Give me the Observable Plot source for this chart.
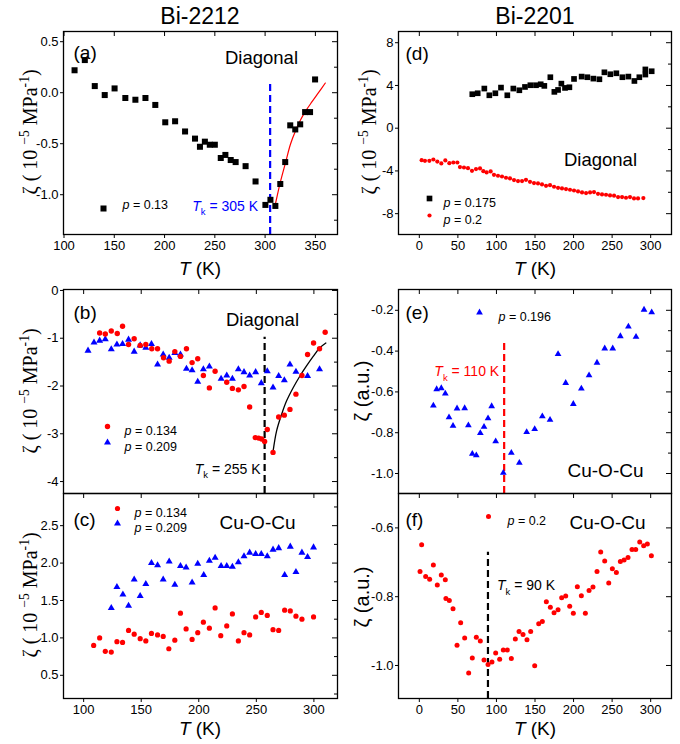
<!DOCTYPE html>
<html><head><meta charset="utf-8">
<script src="https://cdn.jsdelivr.net/npm/d3@7"></script>
<script src="https://cdn.jsdelivr.net/npm/@observablehq/plot@0.6"></script>
<style>
body{margin:0;background:#fff;}
#fig{position:relative;width:680px;height:744px;background:#fff;overflow:hidden;}
</style></head><body><div id="fig"></div>
<script>
// ---------- text ----------
const titles = ["Bi-2212", "Bi-2201"];
const panelTags = ["(a)", "(b)", "(c)", "(d)", "(e)", "(f)"];
const mechLabels = ["Diagonal", "Cu-O-Cu"];
const xAxisLabel = "T (K)";
const legA = ["p = 0.13"];
const legB = ["p = 0.134", "p = 0.209"];
const legD = ["p = 0.175", "p = 0.2"];
const legE = ["p = 0.196"];
const legF = ["p = 0.2"];
const tkLabels = ["Tk = 305 K", "Tk = 255 K", "Tk = 110 K", "Tk = 90 K"];

// ---------- ticks ----------
const xTicksA = [100, 150, 200, 250, 300, 350];
const xTicksBC = [100, 150, 200, 250, 300];
const xTicksR = [0, 50, 100, 150, 200, 250, 300];
const yTicksA = [-1.0, -0.5, 0.0, 0.5], yMinorA = [-1.25, -0.75, -0.25, 0.25];
const yTicksB = [0, -1, -2, -3, -4], yMinorB = [-0.5, -1.5, -2.5, -3.5];
const yTicksC = [0.5, 1.0, 1.5, 2.0, 2.5], yMinorC = [0.25, 0.75, 1.25, 1.75, 2.25, 2.75];
const yTicksD = [-8, -4, 0, 4, 8], yMinorD = [-6, -2, 2, 6];
const yTicksE = [-1.0, -0.8, -0.6, -0.4, -0.2], yMinorE = [-0.9, -0.7, -0.5, -0.3];
const yTicksF = [-1.0, -0.8, -0.6], yMinorF = [-0.9, -0.7];

// ---------- domains ----------
const xDomA = [99.5, 372], yDomA = [-1.39, 0.6];
const xDomBC = [82.5, 320.5], yDomB = [-4.25, 0.02], yDomC = [0.19, 2.93];
const xDomR = [-27, 327], yDomD = [-9.95, 9.05], yDomE = [-1.098, -0.098], yDomF = [-1.096, -0.5];

// ---------- (a) Bi-2212 diagonal p=0.13 ----------
const aT = [110.5,120.7,130.6,140.5,150.3,161,171,181,190.8,200.7,210.5,220.4,230.3,235.2,240.1,245,250,255.9,260.5,265.8,270.7,280.6,290.5,300.3,305.3,310.2,315.1,320,325,330,334.9,339.8,344.7,349.7];
const aZ = [0.22,0.32,0.065,-0.023,0.042,-0.052,-0.069,-0.052,-0.12,-0.29,-0.28,-0.38,-0.45,-0.53,-0.48,-0.51,-0.51,-0.64,-0.61,-0.66,-0.68,-0.72,-0.87,-1.10,-1.05,-1.11,-0.895,-0.68,-0.32,-0.36,-0.31,-0.19,-0.19,0.13];
const aFitT = [309.9,315.1,320.4,325.3,330.3,335.2,340.1,346.7,353.3,359.9];
const aFitZ = [-1.108,-0.879,-0.683,-0.503,-0.373,-0.268,-0.183,-0.088,0.003,0.095];
const aTk = 305, aTkTop = 0.108;

// ---------- (b) Bi-2212 diagonal ----------
const bRedT = [113.9,118.8,124,129.2,133.8,139,143.9,149.1,154,159.2,164.2,169.4,174.3,179.2,184.1,189.3,194.2,199.1,204,209.2,214.2,224.3,229.2,234.4,239.3,244.2,249.1,252,254.6,257.2,259.5,264.5,269.4,274.3,279.2,284.4,289.6,294.5,299.7,304.9,309.8];
const bRedZ = [-0.89,-0.91,-0.85,-0.90,-0.75,-1.13,-1.01,-1.15,-1.13,-1.22,-1.22,-1.41,-1.48,-1.28,-1.38,-1.22,-1.51,-1.43,-1.78,-2.04,-1.69,-1.92,-2.05,-2.08,-2.01,-2.44,-3.08,-3.09,-3.11,-3.16,-2.91,-3.39,-2.65,-2.61,-2.49,-2.17,-1.78,-1.34,-1.10,-1.22,-0.875];
const bBlueT = [103.8,109,113.9,118.8,124,128.9,133.8,139,143.9,149.1,154,158.9,164.2,169.1,174.3,179.2,184.1,189.3,194.2,199.1,204,209.2,219.4,224.3,229.2,234.4,239.3,244.2,249.4,254.3,259.5,264.5,269.4,274.3,279.2,284.4,294.5,304.9];
const bBlueZ = [-1.26,-1.09,-1.05,-1.02,-1.23,-1.13,-1.12,-1.03,-1.28,-1.15,-1.20,-1.12,-1.55,-1.34,-1.41,-1.31,-1.34,-1.64,-1.67,-1.91,-1.65,-1.59,-1.85,-1.78,-1.85,-1.65,-1.71,-1.78,-1.71,-1.94,-1.69,-2.03,-1.79,-1.88,-1.55,-1.70,-1.79,-1.65];
const bFitT = [264.5,267.6,272,276.3,282.1,287.9,293.6,299.4,305.2,310.4];
const bFitZ = [-3.375,-2.94,-2.59,-2.31,-2.03,-1.79,-1.58,-1.38,-1.20,-1.10];
const bTk = 257.2, bTkTop = -0.98;

// ---------- (c) Bi-2212 Cu-O-Cu ----------
const cRedT = [108.7,113.9,118.8,124,128.9,133.8,139,143.9,149.1,154,158.9,164.2,169.1,174,179.2,184.1,189,194.2,199.1,204,209.2,214.2,219.1,224.3,229.2,234.4,239.3,244.2,249.4,254.3,259.5,264.5,269.4,274.6,279.5,284.4,289.6,299.7];
const cRedZ = [0.90,1.0,0.82,0.81,0.95,0.94,1.10,1.05,0.99,0.96,1.06,1.04,1.02,0.855,0.97,1.33,1.12,0.98,1.07,1.21,1.13,1.40,1.03,1.16,1.32,0.96,1.07,1.04,1.28,1.34,1.30,1.11,1.10,1.37,1.36,1.29,1.25,1.28];
const cBlueT = [124,128.9,134.1,139,143.9,149.1,154,158.9,164.2,169.1,174.3,179.2,184.1,189,194.2,199.1,204.3,209.2,214.2,219.4,224.3,229.2,234.4,239.3,244.2,249.4,254.3,259.5,264.5,269.4,274.6,279.5,284.4,289.6,294.5,299.7];
const cBlueZ = [1.40,1.68,1.58,1.43,1.78,1.56,1.72,2.0,1.97,1.78,2.02,1.71,1.96,1.94,1.74,1.99,1.84,2.03,2.07,1.96,1.96,1.95,2.01,2.09,2.14,2.12,2.12,2.09,2.18,2.20,1.84,2.22,1.88,2.14,2.08,2.21];

// ---------- (d) Bi-2201 diagonal ----------
const dBlackT = [68.7,75.7,84.3,90.8,98.6,105.9,114.1,121.9,129.7,137,144,151.3,157.4,162.1,169.9,175.1,179.9,184.2,188.9,194.6,200.6,210.5,217.9,225.7,233.5,240,247.7,255.5,263.3,271.1,278.9,285.3,293.1,293.1,301.3];
const dBlackZ = [3.18,3.27,3.71,3.08,3.27,3.80,3.08,3.71,3.55,3.86,4.02,4.02,4.11,3.96,4.77,3.40,3.58,4.17,3.77,3.83,4.61,4.83,4.77,4.64,4.58,5.23,5.05,5.14,4.77,4.83,4.42,4.77,5.02,5.5,5.33];
const dRedT = [3.0,7.3,13.0,18.2,23.3,28.5,33.7,38.9,44.1,49.3,52.7,57.9,63.1,68.3,73.5,78.7,83.0,87.3,92.5,96.8,102.0,107.2,112.4,117.6,122.8,128.0,133.2,138.3,143.5,148.7,153.9,159.1,164.3,169.5,174.7,179.9,185.0,190.2,195.4,200.6,205.8,211.0,216.2,221.4,226.5,231.7,236.9,242.1,247.3,252.5,257.7,262.9,268.0,273.2,278.4,283.6,290.5];
const dRedZ = [-2.99,-3.05,-3.05,-2.93,-3.12,-3.30,-3.02,-3.27,-3.21,-3.21,-3.64,-3.68,-3.74,-3.99,-3.83,-3.77,-4.02,-4.14,-4.05,-4.36,-4.45,-4.52,-4.64,-4.70,-4.86,-4.95,-4.95,-4.83,-5.02,-5.14,-5.17,-5.26,-5.39,-5.33,-5.48,-5.58,-5.64,-5.70,-5.76,-5.83,-5.92,-6.01,-6.07,-6.01,-5.98,-6.14,-6.20,-6.23,-6.29,-6.32,-6.45,-6.45,-6.51,-6.45,-6.57,-6.57,-6.54];

// ---------- (e) Bi-2201 Cu-O-Cu p=0.196 ----------
const eT = [18.2,22.5,28.5,33.7,38.5,43.7,48.9,58.8,63.6,68.7,73.9,79.1,83.9,89.1,93.8,99,108.9,119.3,129.7,139.2,149.6,159.5,169.5,179.9,189.8,199.7,210.1,220.1,230.4,240.4,250.8,260.7,271.1,281,291.4,301.3];
const eZ = [-0.667,-0.587,-0.582,-0.608,-0.725,-0.766,-0.681,-0.680,-0.764,-0.904,-0.911,-0.802,-0.771,-0.730,-0.670,-0.842,-0.997,-0.899,-0.948,-0.797,-0.782,-0.720,-0.737,-0.415,-0.556,-0.659,-0.584,-0.519,-0.457,-0.387,-0.387,-0.327,-0.280,-0.330,-0.197,-0.21];
const eTk = 110, eTkTop = -0.346;

// ---------- (f) Bi-2201 Cu-O-Cu p=0.2 ----------
const fT = [0.9,3.0,8.2,13.4,18.2,23.3,28.5,33.7,34.5,38.9,43.7,48.9,53.6,58.8,64,68.7,73.9,79.1,83.9,89.1,94.2,99,104.2,108.9,114.1,119.3,124.5,129.3,134.5,139.6,144.4,149.6,154.8,159.5,164.7,169.9,174.7,179.9,184.6,189.8,195,199.7,204.9,210.1,215.3,220.1,225.2,230.4,235.2,240.4,245.6,250.3,255.5,260.7,265.5,270.6,275.8,280.6,285.8,290.9,295.7,300.9];
const fZ = [-0.727,-0.649,-0.741,-0.749,-0.708,-0.766,-0.737,-0.751,-0.805,-0.811,-0.835,-0.941,-0.876,-0.920,-1.022,-0.978,-0.918,-0.929,-0.984,-0.997,-0.990,-0.964,-0.982,-0.955,-0.955,-0.980,-0.923,-0.901,-0.910,-0.925,-0.901,-1.001,-0.879,-0.872,-0.815,-0.831,-0.847,-0.838,-0.803,-0.798,-0.828,-0.848,-0.771,-0.797,-0.848,-0.782,-0.772,-0.727,-0.670,-0.696,-0.760,-0.719,-0.730,-0.698,-0.693,-0.686,-0.663,-0.663,-0.641,-0.652,-0.647,-0.681];
const fTk = 89, fTkTop = -0.671;

// ---------- styling ----------
const FONT = "'Liberation Sans', Arial, Helvetica, sans-serif";
const SERIF = "'Liberation Serif', 'Times New Roman', serif";
const RED = "#ff0000", BLUE = "#0000ff", BLACK = "#000000";
const DASH = "7,4";
const SVGNS = "http://www.w3.org/2000/svg";
const fig = document.getElementById("fig");

const COLS = [{x0: 0, W: 345, ml: 63, mr: 8}, {x0: 345, W: 335, ml: 53, mr: 9}];
const ROWS = [{y0: 0, H: 285, mt: 31, mb: 51}, {y0: 285, H: 208, mt: 4, mb: 0}, {y0: 493, H: 251, mt: 0, mb: 46}];

function rich(el, parts, fsGiven) {
  const fs = fsGiven || parseFloat(getComputedStyle(el).fontSize) || 14;
  while (el.firstChild) el.removeChild(el.firstChild);
  let shift = 0;
  for (const p of parts) {
    const ts = document.createElementNS(SVGNS, "tspan");
    ts.textContent = p.t;
    const target = p.sup ? -0.42 * fs : p.sub ? 0.3 * fs : 0;
    if (target !== shift) { ts.setAttribute("dy", (target - shift).toFixed(2)); shift = target; }
    if (p.sup || p.sub) ts.setAttribute("font-size", (0.68 * fs).toFixed(1));
    if (p.i) ts.setAttribute("font-style", "italic");
    el.appendChild(ts);
  }
}

const T = (s, frameAnchor, dx, dy, o = {}) =>
  Plot.text([s], {text: d => d, frameAnchor, dx, dy, textAnchor: "start", fontSize: 12.5, ...o});
const L = (symbol, fill, r, frameAnchor, dx, dy) =>
  Plot.dot([0], {frameAnchor, dx, dy, symbol, r, fill, stroke: "none"});

function panel(ci, ri, cfg) {
  const c = COLS[ci], r = ROWS[ri];
  const fw = c.W - c.ml - c.mr, fh = r.H - r.mt - r.mb;
  const axisMarks = [
    Plot.tickY(cfg.yTicks, {y: d => d, insetLeft: fw - 5, stroke: BLACK, strokeWidth: 1}),
    Plot.tickY(cfg.yMinor, {y: d => d, insetLeft: fw - 3, stroke: BLACK, strokeWidth: 1}),
    Plot.tickX(cfg.xTicks, {x: d => d, insetBottom: fh - 5, stroke: BLACK, strokeWidth: 1}),
    Plot.axisY({ticks: cfg.yTicks, tickFormat: cfg.yFmt, tickSize: 3, tickPadding: 2, label: null, fontSize: 13})
  ];
  if (cfg.xLabels) axisMarks.push(Plot.axisX({ticks: cfg.xTicks, tickFormat: d => String(d), tickSize: 4, tickPadding: 2, label: null, fontSize: 13}));
  const svg = Plot.plot({
    width: c.W, height: r.H,
    marginLeft: c.ml, marginRight: c.mr, marginTop: r.mt, marginBottom: r.mb,
    x: cfg.xLabels ? {domain: cfg.xDom} : {domain: cfg.xDom, axis: null},
    y: {domain: cfg.yDom},
    style: {overflow: "visible", background: "transparent", fontFamily: FONT, fontSize: "13px", color: "#000",
            position: "absolute", left: c.x0 + "px", top: r.y0 + "px", maxWidth: "none"},
    marks: [...cfg.marks, ...axisMarks, Plot.frame({stroke: BLACK, strokeWidth: 1.3})]
  });
  fig.appendChild(svg);
  svg.querySelectorAll("text").forEach(el => {
    const s = el.textContent;
    if (/^Tk /.test(s)) rich(el, [{t: "T", i: 1}, {t: "k", sub: 1}, {t: s.slice(2)}]);
    else if (/^p = /.test(s)) rich(el, [{t: "p", i: 1}, {t: s.slice(1)}]);
  });
  return svg;
}

const f1 = d => d.toFixed(1), f0 = d => String(d);

// (a)
panel(0, 0, {
  xDom: xDomA, yDom: yDomA, xTicks: xTicksA, yTicks: yTicksA, yMinor: yMinorA, yFmt: f1, xLabels: true,
  marks: [
    Plot.ruleX([aTk], {x: d => d, y1: () => yDomA[0], y2: () => aTkTop, stroke: BLUE, strokeWidth: 2.2, strokeDasharray: DASH}),
    Plot.line(aFitT, {x: aFitT, y: aFitZ, stroke: RED, strokeWidth: 1.2, curve: "catmull-rom"}),
    Plot.dot(aT, {x: aT, y: aZ, symbol: "square", r: 3.4, fill: BLACK, stroke: "none"}),
    T(panelTags[0], "top-left", 10, 14, {fontSize: 19}),
    T(mechLabels[0], "top-left", 198, 19, {fontSize: 18.5, textAnchor: "middle"}),
    L("square", BLACK, 3.4, "bottom-left", 40, -26),
    T(legA[0], "bottom-left", 59, -26),
    Plot.text([tkLabels[0]], {x: [aTk], text: d => d, frameAnchor: "bottom", dx: -12, dy: -24, textAnchor: "end", fill: BLUE, fontSize: 14})
  ]
});

// (b)
panel(0, 1, {
  xDom: xDomBC, yDom: yDomB, xTicks: xTicksBC, yTicks: yTicksB, yMinor: yMinorB, yFmt: f0, xLabels: false,
  marks: [
    Plot.ruleX([bTk], {x: d => d, y1: () => yDomB[0], y2: () => bTkTop, stroke: BLACK, strokeWidth: 2.2, strokeDasharray: DASH}),
    Plot.line(bFitT, {x: bFitT, y: bFitZ, stroke: BLACK, strokeWidth: 1.3, curve: "catmull-rom"}),
    Plot.dot(bBlueT, {x: bBlueT, y: bBlueZ, symbol: "triangle", r: 2.6, fill: BLUE, stroke: "none"}),
    Plot.dot(bRedT, {x: bRedT, y: bRedZ, symbol: "circle", r: 2.7, fill: RED, stroke: "none"}),
    T(panelTags[1], "top-left", 10, 16, {fontSize: 19}),
    T(mechLabels[0], "top-left", 199, 23, {fontSize: 18.5, textAnchor: "middle"}),
    L("circle", RED, 2.7, "top-left", 44, 137),
    T(legB[0], "top-left", 61, 137),
    L("triangle", BLUE, 2.6, "top-left", 44, 153),
    T(legB[1], "top-left", 61, 153),
    Plot.text([tkLabels[1]], {x: [bTk], text: d => d, frameAnchor: "bottom", dx: -4, dy: -20, textAnchor: "end", fill: BLACK, fontSize: 14})
  ]
});

// (c)
panel(0, 2, {
  xDom: xDomBC, yDom: yDomC, xTicks: xTicksBC, yTicks: yTicksC, yMinor: yMinorC, yFmt: f1, xLabels: true,
  marks: [
    Plot.dot(cBlueT, {x: cBlueT, y: cBlueZ, symbol: "triangle", r: 2.6, fill: BLUE, stroke: "none"}),
    Plot.dot(cRedT, {x: cRedT, y: cRedZ, symbol: "circle", r: 2.6, fill: RED, stroke: "none"}),
    T(panelTags[2], "top-left", 10, 19, {fontSize: 19}),
    L("circle", RED, 2.6, "top-left", 54, 15),
    T(legB[0], "top-left", 71, 15),
    L("triangle", BLUE, 2.6, "top-left", 54, 30),
    T(legB[1], "top-left", 71, 30),
    T(mechLabels[1], "top-left", 194, 22, {fontSize: 19, textAnchor: "middle"})
  ]
});

// (d)
panel(1, 0, {
  xDom: xDomR, yDom: yDomD, xTicks: xTicksR, yTicks: yTicksD, yMinor: yMinorD, yFmt: f0, xLabels: true,
  marks: [
    Plot.dot(dBlackT, {x: dBlackT, y: dBlackZ, symbol: "square", r: 3.2, fill: BLACK, stroke: "none"}),
    Plot.dot(dRedT, {x: dRedT, y: dRedZ, symbol: "circle", r: 2.1, fill: RED, stroke: "none"}),
    T(panelTags[3], "top-left", 7, 15, {fontSize: 19}),
    T(mechLabels[0], "top-left", 202, 121, {fontSize: 18.5, textAnchor: "middle"}),
    L("square", BLACK, 3.2, "top-left", 31, 167),
    T(legD[0], "top-left", 45, 167),
    L("circle", RED, 2.1, "top-left", 31, 184),
    T(legD[1], "top-left", 45, 184)
  ]
});

// (e)
panel(1, 1, {
  xDom: xDomR, yDom: yDomE, xTicks: xTicksR, yTicks: yTicksE, yMinor: yMinorE, yFmt: f1, xLabels: false,
  marks: [
    Plot.ruleX([eTk], {x: d => d, y1: () => yDomE[0], y2: () => eTkTop, stroke: RED, strokeWidth: 2.2, strokeDasharray: DASH}),
    Plot.dot(eT, {x: eT, y: eZ, symbol: "triangle", r: 2.5, fill: BLUE, stroke: "none"}),
    T(panelTags[4], "top-left", 7, 16, {fontSize: 19}),
    L("triangle", BLUE, 2.5, "top-left", 81, 23),
    T(legE[0], "top-left", 100, 23),
    Plot.text([tkLabels[2]], {x: [eTk], text: d => d, frameAnchor: "top", dx: -5, dy: 77, textAnchor: "end", fill: RED, fontSize: 14}),
    T(mechLabels[1], "top-left", 207, 174, {fontSize: 19, textAnchor: "middle"})
  ]
});

// (f)
panel(1, 2, {
  xDom: xDomR, yDom: yDomF, xTicks: xTicksR, yTicks: yTicksF, yMinor: yMinorF, yFmt: f1, xLabels: true,
  marks: [
    Plot.ruleX([fTk], {x: d => d, y1: () => yDomF[0], y2: () => fTkTop, stroke: BLACK, strokeWidth: 2.2, strokeDasharray: DASH}),
    Plot.dot(fT, {x: fT, y: fZ, symbol: "circle", r: 2.5, fill: RED, stroke: "none"}),
    T(panelTags[5], "top-left", 7, 19, {fontSize: 19}),
    L("circle", RED, 2.5, "top-left", 90, 23),
    T(legF[0], "top-left", 109, 23),
    T(mechLabels[1], "top-left", 209, 22, {fontSize: 19, textAnchor: "middle"}),
    Plot.text([tkLabels[3]], {x: [fTk], text: d => d, frameAnchor: "top", dx: 9, dy: 87, textAnchor: "start", fill: BLACK, fontSize: 14})
  ]
});

// ---------- overlay: titles & axis labels ----------
const ov = d3.select(fig).append("svg")
  .attr("width", 680).attr("height", 744)
  .style("position", "absolute").style("left", "0px").style("top", "0px")
  .style("overflow", "visible").style("pointer-events", "none")
  .attr("font-family", FONT).attr("fill", "#000");

const colCenters = [200, 535];
titles.forEach((t, i) => ov.append("text").attr("x", colCenters[i]).attr("y", 24)
  .attr("text-anchor", "middle").attr("font-size", 23).text(t));

[[200, 275], [535, 275], [200, 735], [535, 735]].forEach(([x, y]) => {
  const el = ov.append("text").attr("x", x).attr("y", y).attr("text-anchor", "middle").attr("font-size", 19).node();
  rich(el, [{t: xAxisLabel.slice(0, 1), i: 1}, {t: xAxisLabel.slice(1)}], 19);
});

const mpaParts = [{t: "\u03B6 ( 10 "}, {t: "\u22125", sup: 1}, {t: " MPa"}, {t: "-1", sup: 1}, {t: ")"}];
const auParts = [{t: "\u03B6 (a.u.)"}];
[[37, 132, SERIF, mpaParts, 20], [37, 391, SERIF, mpaParts, 20], [37, 595, SERIF, mpaParts, 20],
 [376, 132, SERIF, mpaParts, 20], [369, 391, FONT, auParts, 20], [369, 597, FONT, auParts, 20]]
  .forEach(([x, y, fam, parts, fs]) => {
    const el = ov.append("text").attr("transform", `translate(${x},${y}) rotate(-90)`)
      .attr("text-anchor", "middle").attr("font-family", fam).attr("font-size", fs).node();
    rich(el, parts, fs);
  });
</script></body></html>
